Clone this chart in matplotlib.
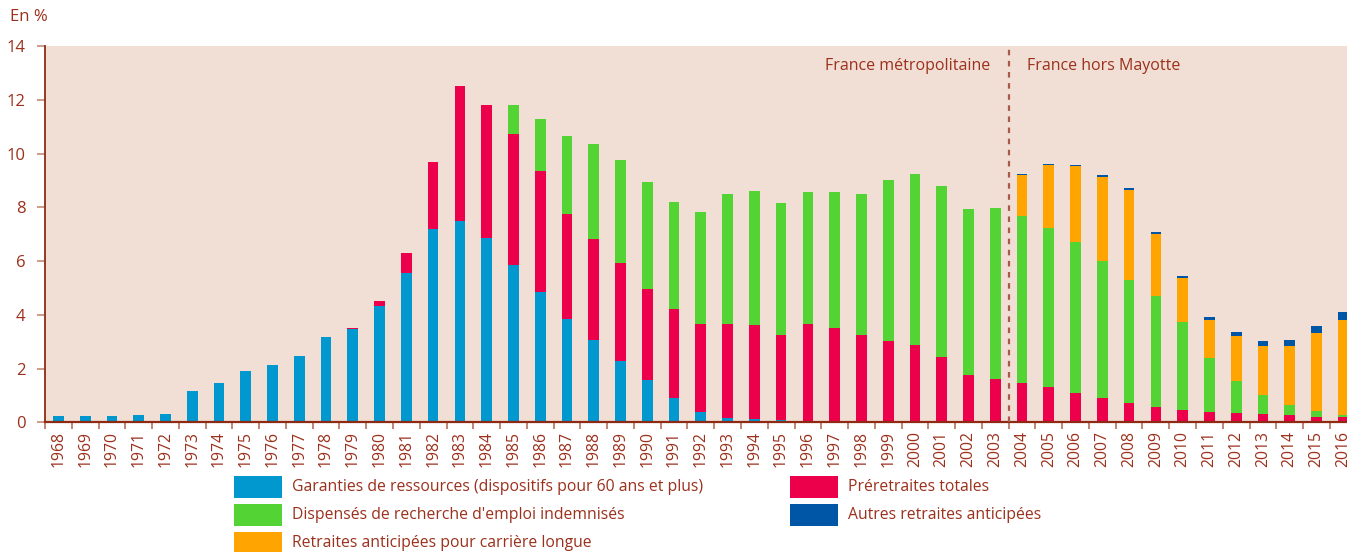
import matplotlib
matplotlib.use("Agg")
import matplotlib.pyplot as plt
from matplotlib.patches import Rectangle
import numpy as np

years = list(range(1968, 2017))

garanties = [0.23, 0.23, 0.23, 0.27, 0.31, 1.16, 1.46, 1.91, 2.13, 2.47, 3.17, 3.47, 4.32, 5.55,
             7.19, 7.48, 6.86, 5.85, 4.86, 3.84, 3.06, 2.28, 1.58, 0.91, 0.39, 0.17, 0.12, 0.09,
             0.05] + [0.0] * 20

preretraites = [0.0] * 11 + [0.05, 0.20, 0.74, 2.48, 5.02, 4.94, 4.87, 4.48, 3.90, 3.75, 3.64,
                3.37, 3.30, 3.26, 3.48, 3.49, 3.15, 3.60, 3.50, 3.24, 3.02, 2.87, 2.43, 1.76,
                1.61, 1.46, 1.31, 1.09, 0.90, 0.72, 0.57, 0.46, 0.38, 0.35, 0.31, 0.27, 0.20, 0.20]

dispenses = [0.0] * 17 + [1.08, 1.94, 2.91, 3.54, 3.83, 3.98, 3.98, 4.17, 4.84, 4.99, 4.91,
             4.91, 5.06, 5.25, 5.99, 6.37, 6.36, 6.18, 6.37, 6.22, 5.92, 5.62, 5.10, 4.57,
             4.13, 3.27, 2.01, 1.19, 0.71, 0.37, 0.22, 0.07]

carriere_longue = [0.0] * 36 + [1.52, 2.34, 2.82, 3.12, 3.35, 2.30, 1.63, 1.41, 1.67, 1.82,
                   2.20, 2.90, 3.53]

autres = [0.0] * 36 + [0.04, 0.04, 0.04, 0.08, 0.07, 0.07, 0.08, 0.11, 0.15, 0.18, 0.22,
          0.26, 0.30]

labels = ["Garanties de ressources (dispositifs pour 60 ans et plus)",
          "Préretraites totales",
          "Dispensés de recherche d'emploi indemnisés",
          "Retraites anticipées pour carrière longue",
          "Autres retraites anticipées"]
colors = ["#0098CE", "#EC004C", "#54D434", "#FFA400", "#0056A6"]

TXT = "#9B301C"
BG = "#F1DFD6"

plt.rcParams['font.family'] = ['Open Sans', 'DejaVu Sans']

fig = plt.figure(figsize=(13.47, 5.52), dpi=100)
W, H = 1347, 552
ax = fig.add_axes([45 / W, (H - 422.3) / H, 1 - 45 / W, (422.3 - 46) / H])
ax.set_facecolor(BG)

x = np.arange(len(years))
series = [garanties, preretraites, dispenses, carriere_longue, autres]
bottom = np.zeros(len(years))
for vals, c in zip(series, colors):
    v = np.array(vals)
    ax.bar(x, v, width=0.40, bottom=bottom, color=c, linewidth=0, zorder=2)
    bottom += v

ax.set_xlim(-0.5, 48.14)
ax.set_ylim(0, 14)
ax.set_yticks(range(0, 15, 2))
ax.tick_params(axis='y', colors="#C58A78", labelcolor=TXT, labelsize=12, length=6, width=1.2, pad=8)

ax.set_xticks(x - 0.5)
ax.set_xticklabels([])
ax.set_xticks(x, minor=True)
ax.set_xticklabels([str(y) for y in years], minor=True, rotation=90)
ax.tick_params(axis='x', which='major', colors="#B5705C", length=5, width=1.2)
ax.tick_params(axis='x', which='minor', length=0, labelcolor=TXT, labelsize=11.3, pad=6)

for s in ['top', 'right']:
    ax.spines[s].set_visible(False)
ax.spines['left'].set_color("#8E2A14")
ax.spines['bottom'].set_color("#8E2A14")
ax.spines['left'].set_linewidth(1.3)
ax.spines['bottom'].set_linewidth(1.6)

ax.axvline(35.5, color="#A8594A", linestyle=(0, (2.5, 2.5)), linewidth=1.6, zorder=3)
ax.text(34.8, 13.25, "France métropolitaine", ha='right', va='center', color=TXT, fontsize=11.5)
ax.text(36.2, 13.25, "France hors Mayotte", ha='left', va='center', color=TXT, fontsize=11.5)

fig.text(10 / W, 1 - 17 / H, "En %", ha='left', va='center', color=TXT, fontsize=12)

# legend
entries = [(0, 0, 0), (2, 0, 1), (3, 0, 2), (1, 1, 0), (4, 1, 1)]
col_x = [234, 790]
row_y = [487, 515, 543]
for idx, col, row in entries:
    bx = col_x[col]
    cy = row_y[row]
    fig.add_artist(Rectangle((bx / W, (H - cy - 11) / H), 48 / W, 22 / H,
                             transform=fig.transFigure, color=colors[idx], linewidth=0))
    fig.text((bx + 58) / W, (H - cy) / H, labels[idx], ha='left', va='center',
             color=TXT, fontsize=11.3)

fig.savefig("out.png", dpi=100)
